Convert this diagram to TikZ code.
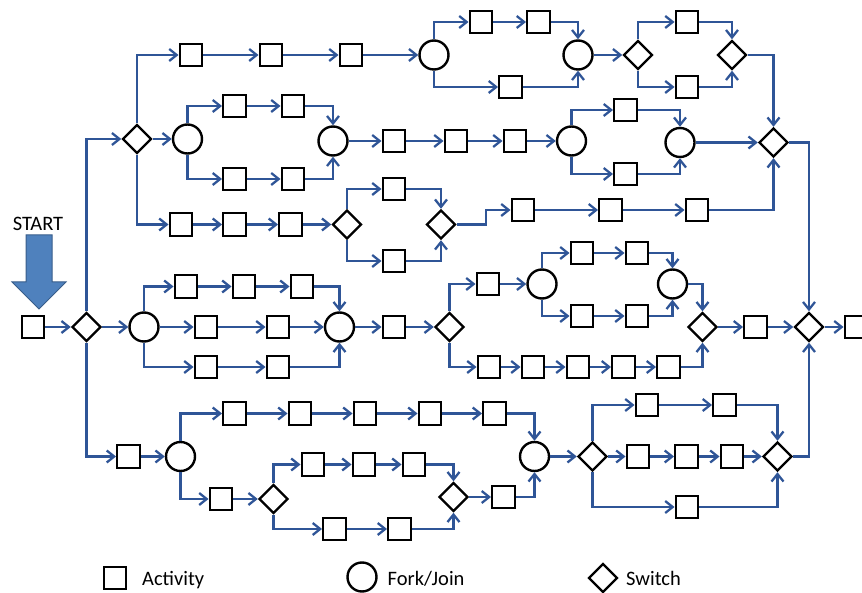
\documentclass[tikz,border=0pt]{standalone}
\usepackage{fontspec}
\setmainfont{Carlito}
\usetikzlibrary{arrows.meta,shapes.geometric}
\definecolor{flow}{RGB}{47,85,151}
\definecolor{bigarrow}{RGB}{79,129,189}
\definecolor{bigarrowedge}{RGB}{56,93,138}
\begin{document}
\begin{tikzpicture}[x=1pt,y=-1pt,
  act/.style={draw=black,line width=2.4pt,rectangle,minimum size=22.5pt,inner sep=0pt,fill=white},
  fj/.style={draw=black,line width=2.4pt,circle,minimum size=29pt,inner sep=0pt,fill=white},
  sw/.style={draw=black,line width=2.4pt,diamond,minimum width=29pt,minimum height=29pt,inner sep=0pt,fill=white},
  arr/.style={draw=flow,line width=2.3pt,-{Straight Barb[length=7.5pt,width=12pt,line width=2.3pt]}},
  lbl/.style={inner sep=0pt,font=\fontsize{20.5}{24}\selectfont}]
\useasboundingbox (0,0) rectangle (862,593);
\clip (0,0) rectangle (862,593);
% start
\draw[bigarrowedge,fill=bigarrow,line width=1pt] (26,235) -- (52,235) -- (52,282) -- (66,282) -- (39,309) -- (12,282) -- (26,282) -- cycle;
\node[lbl,anchor=base] (start) at (38,230.7) {START};
\node[act] (A0) at (33,327) {};
\node[sw] (D0) at (86.5,327) {};
% branch 1
\node[sw] (D1) at (137,139) {};
\node[act] (S11) at (191,55) {};
\node[act] (S12) at (271,55) {};
\node[act] (S13) at (351,55) {};
\node[fj] (C1) at (434,55) {};
\node[act] (S14) at (481,22) {};
\node[act] (S15) at (538.5,22) {};
\node[act] (S16) at (510.5,87) {};
\node[fj] (C2) at (578,55) {};
\node[sw] (D2) at (638,55) {};
\node[act] (S17) at (687,22) {};
\node[act] (S18) at (687,87) {};
\node[sw] (D3) at (732,55) {};
\node[sw] (D4) at (773.5,142.5) {};
% branch 2
\node[fj] (C3) at (187.5,139) {};
\node[act] (S21) at (234.5,106) {};
\node[act] (S22) at (293,106) {};
\node[act] (S23) at (234.5,179) {};
\node[act] (S24) at (293,179) {};
\node[fj] (C4) at (333,141) {};
\node[act] (S25) at (394,141) {};
\node[act] (S26) at (456,141) {};
\node[act] (S27) at (515,141) {};
\node[fj] (C5) at (571.5,141) {};
\node[act] (S28) at (625.5,110) {};
\node[act] (S29) at (625.5,174) {};
\node[fj] (C6) at (680,142.5) {};
% branch 3
\node[act] (S31) at (181,224.5) {};
\node[act] (S32) at (234.5,224.5) {};
\node[act] (S33) at (290.5,224.5) {};
\node[sw] (D6) at (347,224.5) {};
\node[act] (S34) at (394,189) {};
\node[act] (S35) at (394,261) {};
\node[sw] (D7) at (441,224.5) {};
\node[act] (S36) at (523,210) {};
\node[act] (S37) at (610.5,210) {};
\node[act] (S38) at (697,210) {};
% middle
\node[fj] (C7) at (144,327) {};
\node[act] (S41) at (186,286.5) {};
\node[act] (S42) at (244,286.5) {};
\node[act] (S43) at (302,286.5) {};
\node[act] (S44) at (206,327) {};
\node[act] (S45) at (278,327) {};
\node[act] (S46) at (206,367) {};
\node[act] (S47) at (278,367) {};
\node[fj] (C8) at (339.5,327) {};
\node[act] (S48) at (394,327) {};
\node[sw] (D8) at (449.5,327) {};
\node[act] (S51) at (488,284) {};
\node[fj] (C9) at (542,284) {};
\node[act] (S52) at (582,253) {};
\node[act] (S53) at (637,253) {};
\node[act] (S54) at (582,316) {};
\node[act] (S55) at (637,316) {};
\node[fj] (C10) at (672.5,284) {};
\node[sw] (D9) at (702.5,327) {};
\node[act] (S56) at (489,367) {};
\node[act] (S57) at (533,367) {};
\node[act] (S58) at (578,367) {};
\node[act] (S59) at (623.5,367) {};
\node[act] (S60) at (668.5,367) {};
\node[act] (S61) at (755.5,327) {};
\node[sw] (D5) at (809,327) {};
\node[act] (S62) at (856,327) {};
% bottom
\node[act] (S71) at (128.5,456.5) {};
\node[fj] (C11) at (180.5,456.5) {};
\node[act] (S72) at (234.5,413.5) {};
\node[act] (S73) at (300,413.5) {};
\node[act] (S74) at (365,413.5) {};
\node[act] (S75) at (430,413.5) {};
\node[act] (S76) at (494.5,413.5) {};
\node[fj] (C12) at (534.5,456.5) {};
\node[act] (S77) at (221,499) {};
\node[sw] (D10) at (273.5,499) {};
\node[act] (S78) at (313,464.5) {};
\node[act] (S79) at (364,464.5) {};
\node[act] (S80) at (414,464.5) {};
\node[sw] (D11) at (453.5,497) {};
\node[act] (S81) at (334.5,529) {};
\node[act] (S82) at (399.5,529) {};
\node[act] (S83) at (503.5,497) {};
\node[sw] (D12) at (592.5,456.5) {};
\node[act] (S84) at (647,405) {};
\node[act] (S85) at (724.5,405) {};
\node[act] (S86) at (638,456.5) {};
\node[act] (S87) at (686.5,456.5) {};
\node[act] (S88) at (732,456.5) {};
\node[act] (S89) at (687,507) {};
\node[sw] (D13) at (777.5,456.5) {};
% straight connectors
\foreach \a/\b in {A0/D0,D0/C7,S11/S12,S12/S13,S13/C1,S14/S15,C2/D2,
  D1/C3,S21/S22,S23/S24,C4/S25,S25/S26,S26/S27,S27/C5,C6/D4,
  S31/S32,S32/S33,S33/D6,S36/S37,S37/S38,
  S41/S42,S42/S43,C7/S44,S44/S45,S45/C8,S46/S47,C8/S48,S48/D8,S51/C9,S52/S53,S54/S55,
  S56/S57,S57/S58,S58/S59,S59/S60,D9/S61,S61/D5,D5/S62,
  S71/C11,S72/S73,S73/S74,S74/S75,S75/S76,S77/D10,S78/S79,S79/S80,S81/S82,D11/S83,
  C12/D12,S84/S85,D12/S86,S86/S87,S87/S88,S88/D13}
  \draw[arr] (\a) -- (\b);
% elbow connectors: up/down then right
\foreach \a/\b in {D0/D1,D1/S11,C1/S14,D2/S17,C3/S21,C5/S28,D6/S34,C7/S41,D8/S51,C9/S52,C11/S72,D10/S78,D12/S84}
  \draw[arr] (\a.north) |- (\b.west);
\foreach \a/\b in {D0/S71,C1/S16,D2/S18,C3/S23,C5/S29,D1/S31,D6/S35,C7/S46,C9/S54,D8/S56,C11/S77,D10/S81,D12/S89}
  \draw[arr] (\a.south) |- (\b.west);
% elbow connectors: right then down/up
\foreach \a/\b in {S15/C2,S17/D3,D3/D4,S22/C4,S28/C6,D4/D5,S34/D7,S43/C8,S53/C10,C10/D9,S76/C12,S80/D11,S85/D13}
  \draw[arr] (\a.east) -| (\b.north);
\foreach \a/\b in {S16/C2,S18/D3,S24/C4,S29/C6,S38/D4,S35/D7,S47/C8,S55/C10,S60/D9,S82/D11,S83/C12,S89/D13,D13/D5}
  \draw[arr] (\a.east) -| (\b.south);
\draw[arr] (D7.east) -- ++(29,0) |- (S36.west);
% legend
\node[act] (LA) at (115,578) {};
\node[lbl,anchor=base west] (LAt) at (142,585) {Activity};
\node[fj] (LF) at (362,577) {};
\node[lbl,anchor=base west] (LFt) at (387.5,585) {Fork/Join};
\node[sw] (LS) at (603,578) {};
\node[lbl,anchor=base west] (LSt) at (626,585) {Switch};
\end{tikzpicture}
\end{document}
